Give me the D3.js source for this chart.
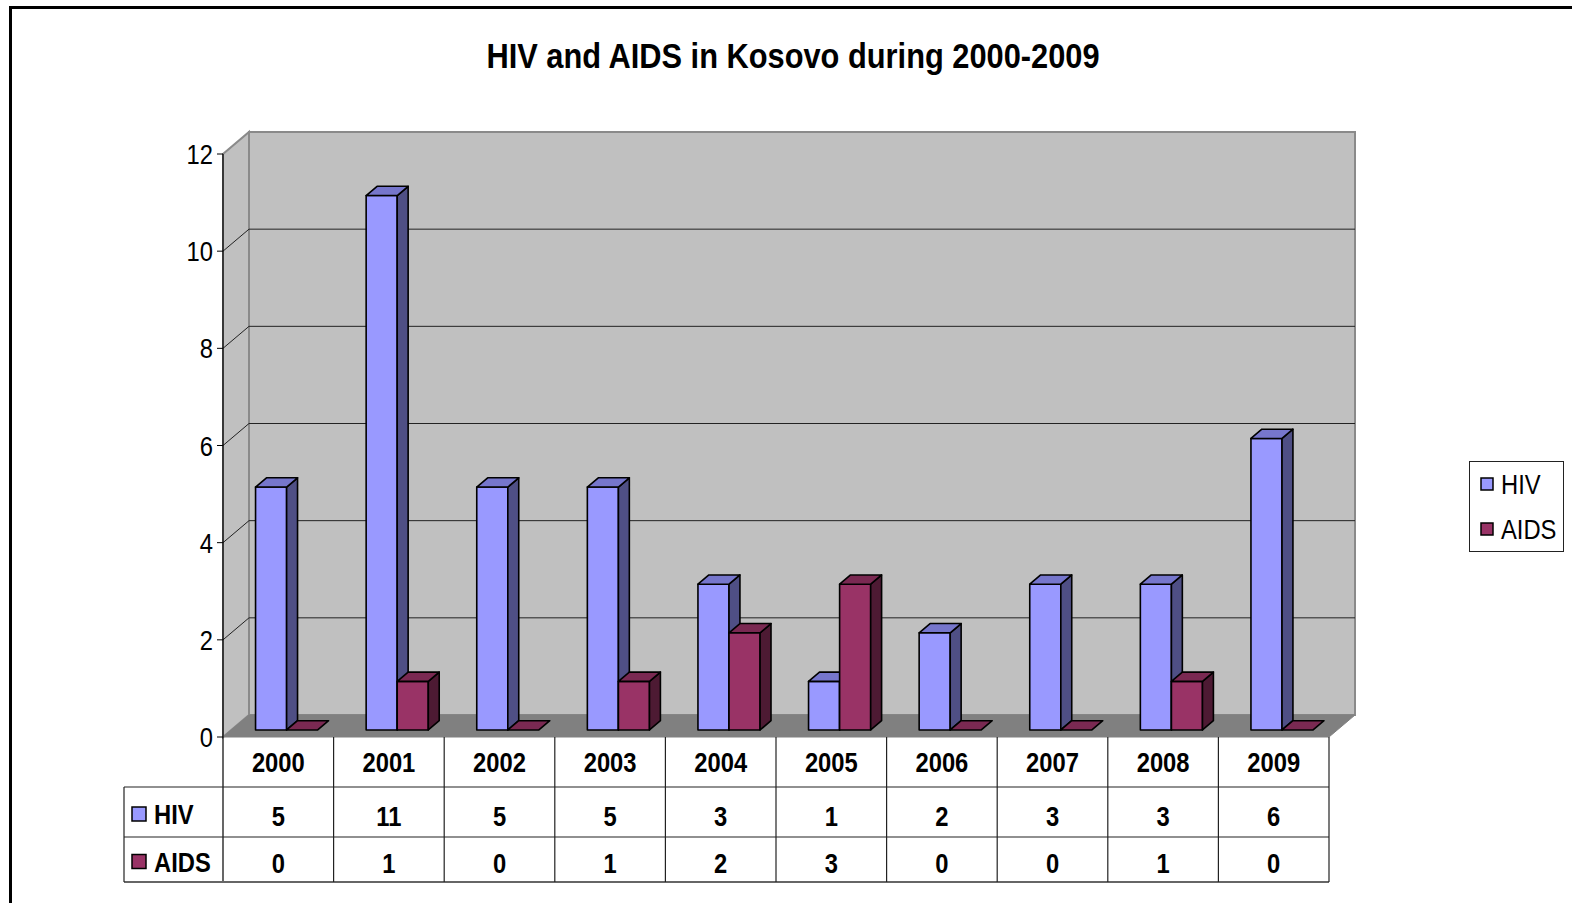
<!DOCTYPE html>
<html>
<head>
<meta charset="utf-8">
<script src="https://cdn.jsdelivr.net/npm/d3@7"></script>
<style>
  body { margin: 0; background: #fff; }
  text { font-family: "Liberation Sans", Arial, sans-serif; fill: #000; }
</style>
</head>
<body>
<div class="center"></div>
<script>
const years = ["2000", "2001", "2002", "2003", "2004", "2005", "2006", "2007", "2008", "2009"];
const hiv = [5, 11, 5, 5, 3, 1, 2, 3, 3, 6];
const aids = [0, 1, 0, 1, 2, 3, 0, 0, 1, 0];
const seriesNames = ["HIV", "AIDS"];
const yTicks = [0, 2, 4, 6, 8, 10, 12];
const title = "HIV and AIDS in Kosovo during 2000-2009";

const w = 1572, h = 903;
const DX = 26, DY = 22;      // depth of the back wall
const f1 = 0.32, f2 = 0.74;  // front / back of the bars
const SQ = 0.88;             // text looks a bit narrow in the original

const colors = {
    HIV: { front: "#9999ff", top: "#7676cc", side: "#4f4f85" },
    AIDS: { front: "#993366", top: "#7a2952", side: "#4d1a33" }
};

const svg = d3.select(".center")
    .append("svg")
    .attr("width", w)
    .attr("height", h);

const x = d3.scaleBand().domain(years).range([223, 1329]);
const xInner = d3.scaleBand().domain(seriesNames).range([0, x.bandwidth()]).paddingOuter(0.78);
const y = d3.scaleLinear().domain([0, 12]).range([737, 154]);

// point in front plane pushed back by f
const p = (px, v, f) => [px + f * DX, y(v) - f * DY];
const poly = pts => pts.map(d => d.join(",")).join(" ");

// squished text helper
function label(g, tx, ty, str, size, weight, anchor) {
    return g.append("text")
        .attr("transform", `translate(${tx},${ty}) scale(${SQ},1)`)
        .attr("text-anchor", anchor || "middle")
        .attr("font-size", size)
        .attr("font-weight", weight || "normal")
        .text(str);
}

// outer frame
svg.append("rect")
    .attr("x", 10.5).attr("y", 7.5)
    .attr("width", 1700).attr("height", 1000)
    .attr("fill", "none").attr("stroke", "#000").attr("stroke-width", 3);

label(svg, 793, 68, title, 35, "bold");

const x0 = x.range()[0], x1 = x.range()[1];

// side wall, back wall, floor
svg.append("polygon")
    .attr("points", poly([p(x0, 0, 0), p(x0, 12, 0), p(x0, 12, 1), p(x0, 0, 1)]))
    .attr("fill", "#c0c0c0").attr("stroke", "#8a8a8a").attr("stroke-width", 2);
svg.append("polygon")
    .attr("points", poly([p(x0, 0, 1), p(x0, 12, 1), p(x1, 12, 1), p(x1, 0, 1)]))
    .attr("fill", "#c0c0c0").attr("stroke", "#8a8a8a").attr("stroke-width", 2);
svg.append("polygon")
    .attr("points", poly([p(x0, 0, 0), p(x0, 0, 1), p(x1, 0, 1), p(x1, 0, 0)]))
    .attr("fill", "#808080").attr("stroke", "#808080").attr("stroke-width", 1);

// gridlines
svg.selectAll(".grid")
    .data(yTicks.filter(t => t > 0 && t < 12))
    .enter()
    .append("polyline")
    .attr("class", "grid")
    .attr("points", d => poly([p(x0, d, 0), p(x0, d, 1), p(x1, d, 1)]))
    .attr("fill", "none").attr("stroke", "#222").attr("stroke-width", 1);

// y axis
svg.append("line")
    .attr("x1", x0).attr("x2", x0)
    .attr("y1", y(12)).attr("y2", 882)
    .attr("stroke", "#000").attr("stroke-width", 1.2);
const ticks = svg.selectAll(".tick").data(yTicks).enter().append("g").attr("class", "tick");
ticks.append("line")
    .attr("x1", x0 - 6).attr("x2", x0)
    .attr("y1", d => y(d)).attr("y2", d => y(d))
    .attr("stroke", "#000");
ticks.each(function (d) {
    label(d3.select(this), x0 - 10, y(d) + 10, d, 27, "normal", "end");
});

// bars
const bars = [];
years.forEach((yr, i) => {
    bars.push({ year: yr, s: "HIV", v: hiv[i] });
    bars.push({ year: yr, s: "AIDS", v: aids[i] });
});
const barG = svg.selectAll(".bar")
    .data(bars)
    .enter()
    .append("g")
    .attr("class", "bar");
barG.each(function (d) {
    const g = d3.select(this);
    const a = x(d.year) + xInner(d.s), b = a + xInner.bandwidth();
    const c = colors[d.s];
    const st = { stroke: "#000", "stroke-width": 1.6, "stroke-linejoin": "round" };
    const add = (pts, fill) => {
        const el = g.append("polygon").attr("points", poly(pts)).attr("fill", fill);
        Object.entries(st).forEach(([k, v]) => el.attr(k, v));
    };
    if (d.v > 0) {
        add([p(a, d.v, f1), p(b, d.v, f1), p(b, 0, f1), p(a, 0, f1)], c.front);
        add([p(b, d.v, f1), p(b, d.v, f2), p(b, 0, f2), p(b, 0, f1)], c.side);
    }
    add([p(a, d.v, f1), p(b, d.v, f1), p(b, d.v, f2), p(a, d.v, f2)], c.top);
});

// data table
const tbl = svg.append("g").attr("stroke", "#222").attr("stroke-width", 1.2);
[787, 837].forEach(ry => tbl.append("line").attr("x1", 124).attr("x2", x1).attr("y1", ry).attr("y2", ry));
tbl.append("line").attr("x1", 124).attr("x2", x1).attr("y1", 882).attr("y2", 882)
    .attr("stroke", "#666").attr("stroke-width", 2);
tbl.append("line").attr("x1", 124).attr("x2", 124).attr("y1", 787).attr("y2", 882);
tbl.selectAll(".col")
    .data(years.map(yr => x(yr)).concat([x1]).slice(1))
    .enter()
    .append("line")
    .attr("x1", d => d).attr("x2", d => d)
    .attr("y1", 737).attr("y2", 882);

years.forEach((yr, i) => {
    const cx = x(yr) + x.bandwidth() / 2;
    label(svg, cx, 772, yr, 27, "bold");
    label(svg, cx, 826, hiv[i], 27, "bold");
    label(svg, cx, 873, aids[i], 27, "bold");
});
[[hiv, 789, 839], [aids, 839, 884]].forEach((r, k) => {
    const s = seriesNames[k];
    const my = (r[1] + r[2]) / 2;
    svg.append("rect")
        .attr("x", 132).attr("y", my - 7)
        .attr("width", 14).attr("height", 14)
        .attr("fill", colors[s].front).attr("stroke", "#000").attr("stroke-width", 1.5);
    label(svg, 154, my + 10, s, 27, "bold", "start");
});

// legend
const leg = svg.append("g");
leg.append("rect")
    .attr("x", 1469.5).attr("y", 461.5)
    .attr("width", 94).attr("height", 90)
    .attr("fill", "#fff").attr("stroke", "#222").attr("stroke-width", 1);
seriesNames.forEach((s, k) => {
    const ly = 484 + k * 45;
    leg.append("rect")
        .attr("x", 1481).attr("y", ly - 6)
        .attr("width", 12).attr("height", 12)
        .attr("fill", colors[s].front).attr("stroke", "#000").attr("stroke-width", 1.5);
    label(leg, 1501, ly + 10, s, 27, "normal", "start");
});
</script>
</body>
</html>
